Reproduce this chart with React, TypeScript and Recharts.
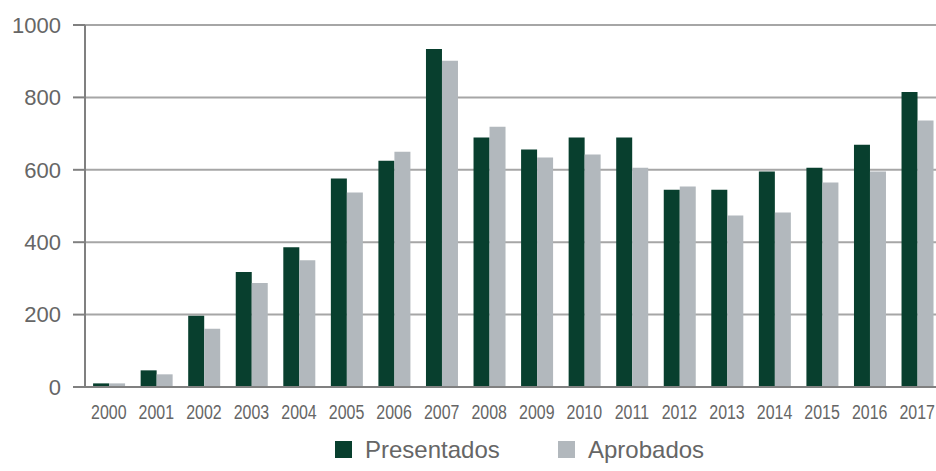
import { BarChart, Bar, XAxis, YAxis, CartesianGrid, Legend } from 'recharts'

const years = ['2000', '2001', '2002', '2003', '2004', '2005', '2006', '2007', '2008', '2009', '2010', '2011', '2012', '2013', '2014', '2015', '2016', '2017']
const presentados = [10, 46, 197, 318, 386, 576, 625, 934, 689, 656, 689, 689, 545, 545, 595, 606, 669, 815]
const aprobados = [10, 35, 161, 287, 350, 537, 650, 901, 719, 634, 642, 606, 554, 474, 482, 565, 595, 736]
const yTicks = [0, 200, 400, 600, 800, 1000]

const GREEN = '#083f2e'
const GREY = '#b2b8bd'

const data = years.map((y, i) => ({ year: y, Presentados: presentados[i], Aprobados: aprobados[i] }))

// narrow year labels (no Helvetica Narrow here, so squeeze Liberation Sans)
function YearTick(props: any) {
  const { x, y, payload } = props
  return (
    <text
      transform={`translate(${x},${y}) scale(0.76,1)`}
      textAnchor="middle"
      dy="0.71em"
      fontSize={21}
      fill="#666"
      fontFamily="Liberation Sans, Arial, sans-serif"
    >
      {payload.value}
    </text>
  )
}

function LegendBox() {
  const item = (color: string, label: string, left: number) => (
    <div style={{ position: 'absolute', left, top: 18, display: 'flex', alignItems: 'center' }}>
      <span style={{ width: 17, height: 17, background: color, display: 'inline-block' }} />
      <span style={{ marginLeft: 13, fontSize: 24, color: '#666', fontFamily: 'Liberation Sans, Arial, sans-serif', lineHeight: '17px' }}>{label}</span>
    </div>
  )
  return (
    <div style={{ position: 'relative', width: 945, height: 48 }}>
      {item(GREEN, 'Presentados', 335)}
      {item(GREY, 'Aprobados', 558)}
    </div>
  )
}

export default function App() {
  return (
    <div style={{ position: 'absolute', left: 0, top: 0, width: 936, height: 471, overflow: 'hidden', background: '#fff' }}>
      <BarChart
        width={945}
        height={471}
        data={data}
        margin={{ top: 25, right: 4, bottom: 0, left: 0 }}
        barCategoryGap="17%"
        barGap={0}
      >
        <CartesianGrid vertical={false} stroke="#a6a6a6" strokeWidth={2} />
        <XAxis
          dataKey="year"
          tickLine={false}
          tickSize={0}
          tickMargin={17}
          height={36}
          axisLine={{ stroke: '#808080', strokeWidth: 2 }}
          tick={<YearTick />}
          interval={0}
        />
        <YAxis
          domain={[0, 1000]}
          ticks={yTicks}
          width={85}
          tickSize={12}
          tickMargin={12}
          tickLine={{ stroke: '#808080', strokeWidth: 2 }}
          axisLine={{ stroke: '#808080', strokeWidth: 2 }}
          tick={{ fontSize: 22, fill: '#666', fontFamily: 'Liberation Sans, Arial, sans-serif' }}
        />
        <Legend verticalAlign="bottom" height={48} content={() => <LegendBox />} />
        <Bar dataKey="Presentados" fill={GREEN} isAnimationActive={false} />
        <Bar dataKey="Aprobados" fill={GREY} isAnimationActive={false} />
      </BarChart>
    </div>
  )
}
